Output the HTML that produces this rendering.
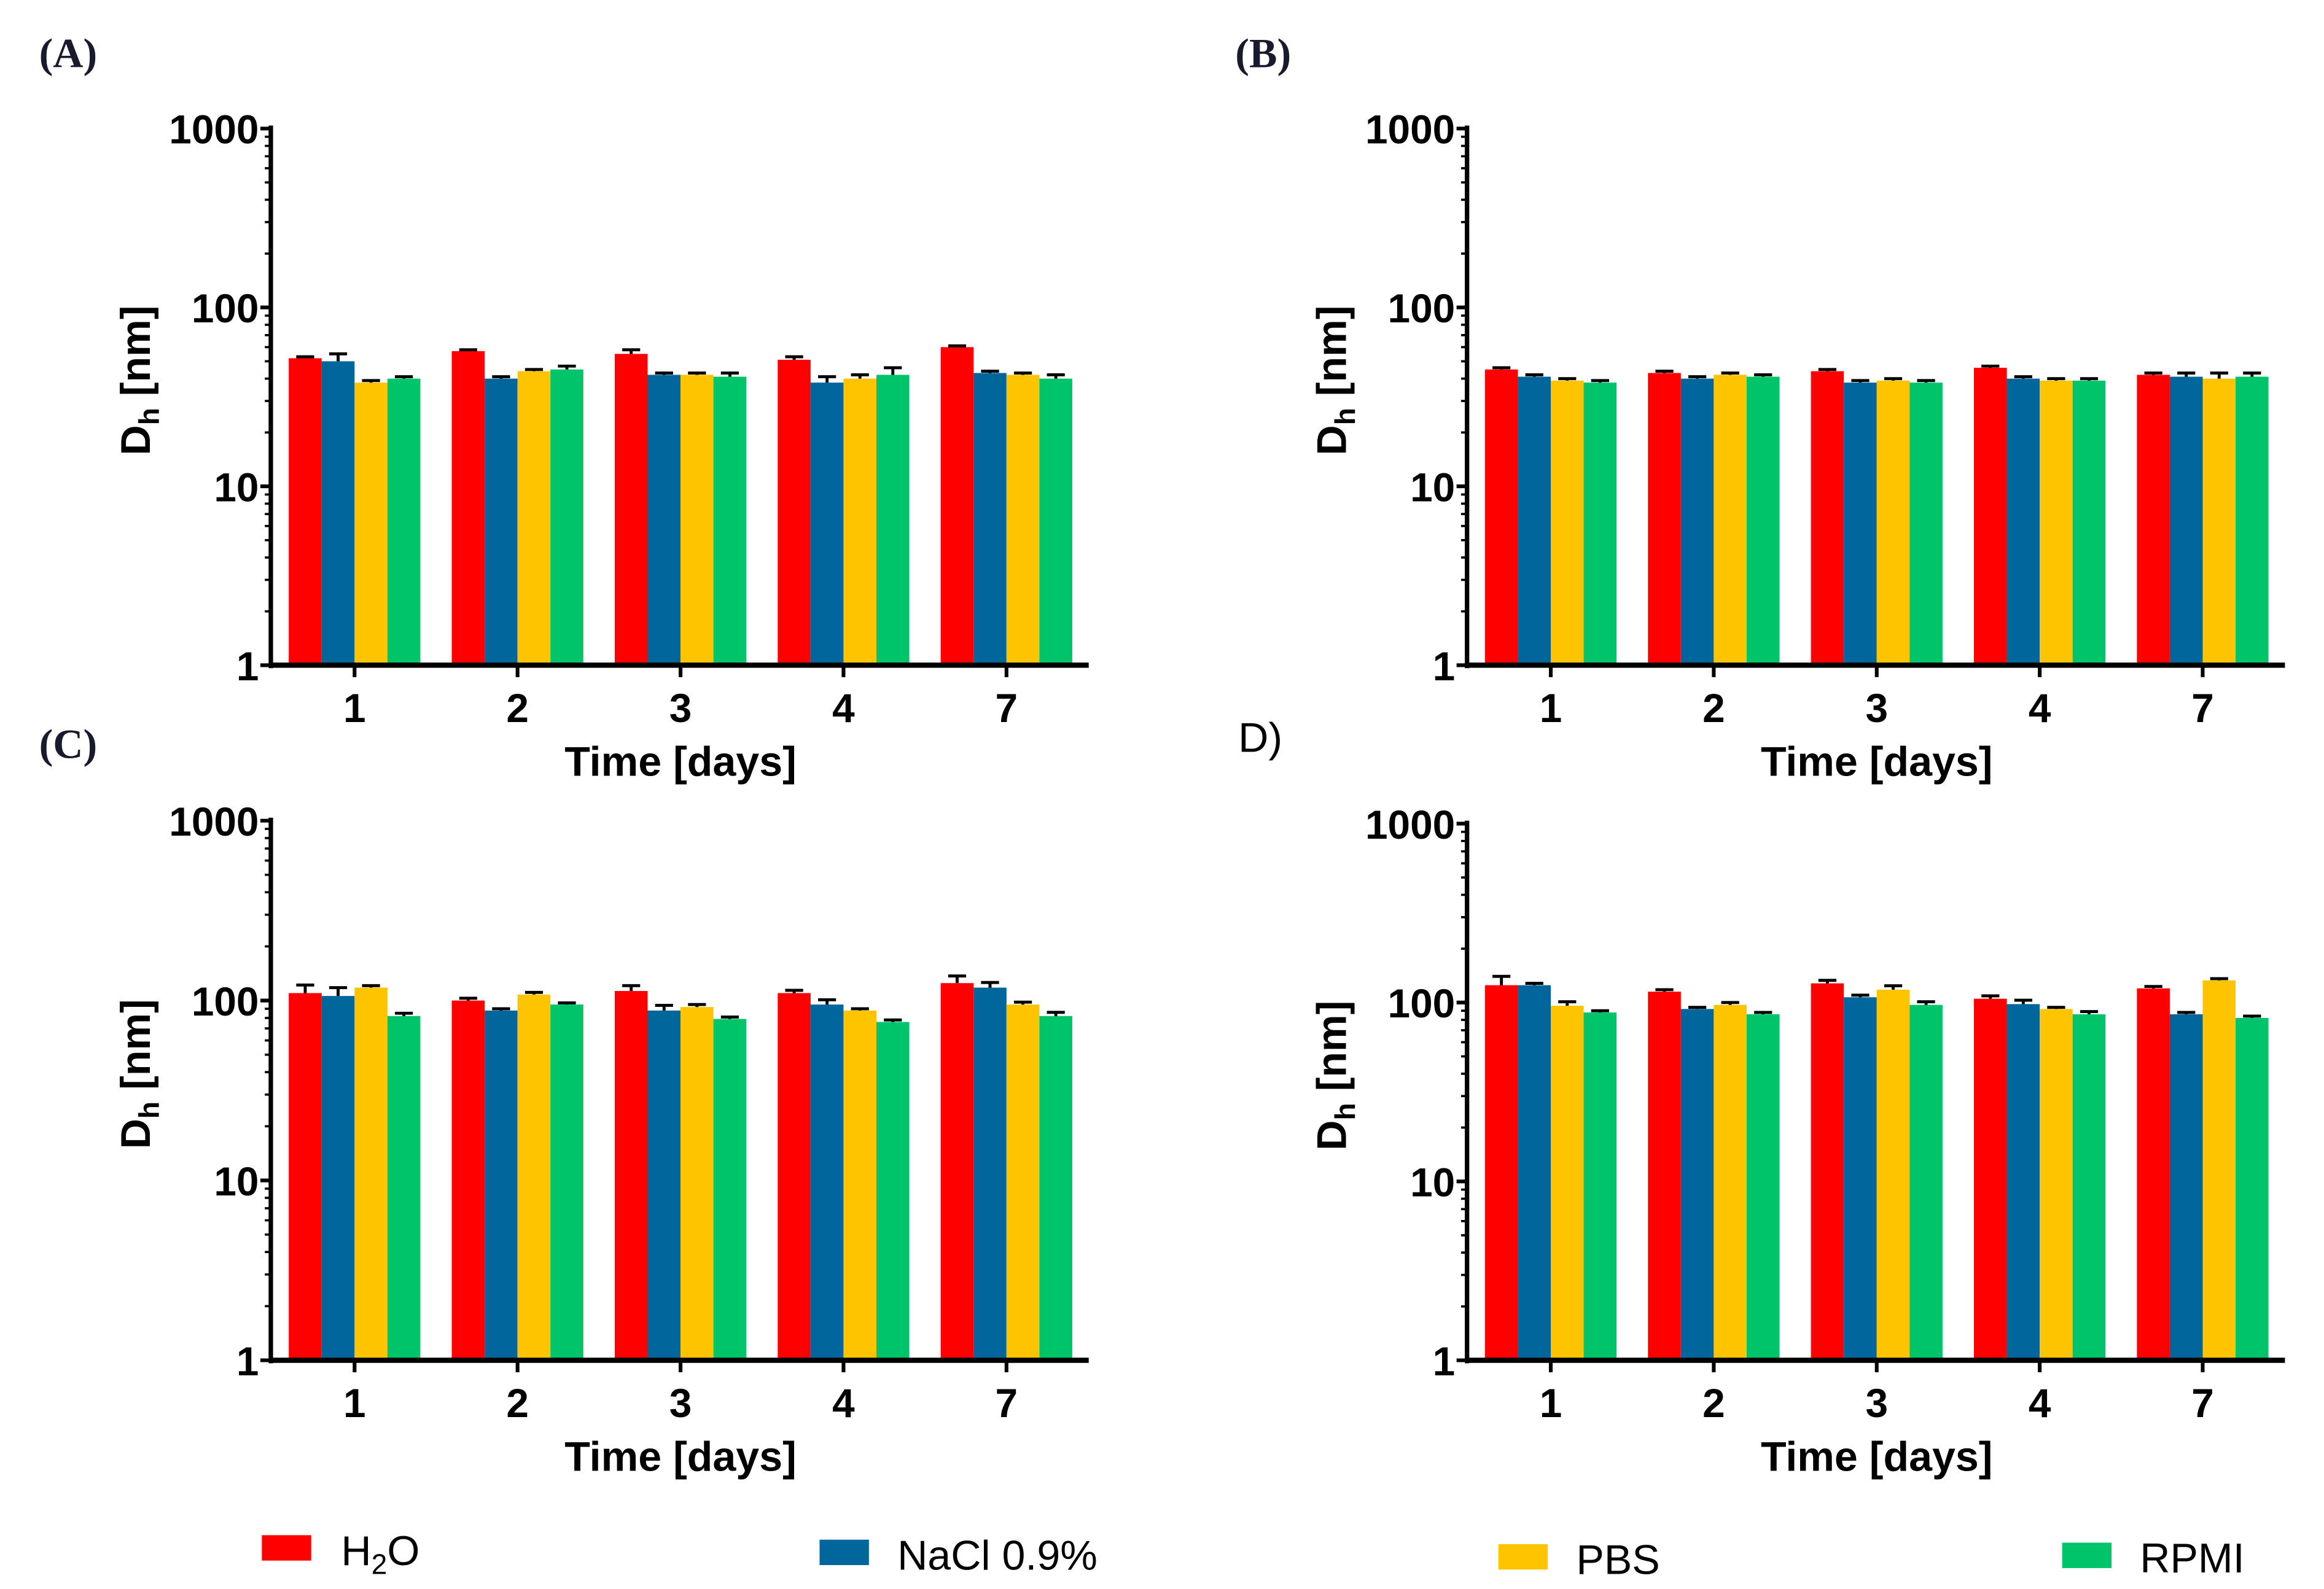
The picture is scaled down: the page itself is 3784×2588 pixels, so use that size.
<!DOCTYPE html>
<html><head><meta charset="utf-8"><style>
html,body{margin:0;padding:0;background:#fff;}
svg{display:block;}
.tick{font-family:"Liberation Sans Narrow","Liberation Sans",sans-serif;font-weight:bold;font-size:27px;fill:#000;}
.title{font-family:"Liberation Sans Narrow","Liberation Sans",sans-serif;font-weight:bold;font-size:28px;fill:#000;}
.plab{font-family:"Liberation Serif",serif;font-size:28px;fill:#1a1a2e;}
.leg{font-family:"Liberation Sans Narrow","Liberation Sans",sans-serif;font-size:28px;fill:#000;}
</style></head><body>
<svg id="fig" width="3784" height="2588" viewBox="0 0 1554 1063" xmlns="http://www.w3.org/2000/svg"></svg>
<script>
const categories = ["1","2","3","4","7"];
const seriesNames = ["H2O","NaCl 0.9%","PBS","RPMI"];
const colors = ["#ff0000","#00669c","#ffc400","#00c46a"];
const yTicks = [1,10,100,1000];
const yTickLabels = ["1","10","100","1000"];
// Panel A
const aH2O = [52,57,55,51,60];
const aNaCl = [50,40,42,38,43];
const aPBS = [38,44,42,40,42];
const aRPMI = [40,45,41,42,40];
const aErrH2O = [1,1,3,2,1];
const aErrNaCl = [5,1,1,3,1];
const aErrPBS = [1,1,1,2,1];
const aErrRPMI = [1,2,2,4,2];
// Panel B
const bH2O = [45,43,44,46,42];
const bNaCl = [41,40,38,40,41];
const bPBS = [39,42,39,39,40];
const bRPMI = [38,41,38,39,41];
const bErrH2O = [1,1,1,1,1];
const bErrNaCl = [1,1,1,1,2];
const bErrPBS = [1,1,1,1,3];
const bErrRPMI = [1,1,1,1,2];
// Panel C
const cH2O = [110,100,113,110,125];
const cNaCl = [106,88,88,95,118];
const cPBS = [118,108,92,88,95];
const cRPMI = [82,95,79,76,82];
const cErrH2O = [12,3,8,4,12];
const cErrNaCl = [12,2,6,6,8];
const cErrPBS = [3,3,3,2,3];
const cErrRPMI = [3,2,2,2,4];
// Panel D
const dH2O = [125,115,128,105,120];
const dNaCl = [125,92,107,98,86];
const dPBS = [96,97,118,92,133];
const dRPMI = [88,86,97,86,82];
const dErrH2O = [15,3,5,4,3];
const dErrNaCl = [3,2,3,5,2];
const dErrPBS = [5,3,6,2,3];
const dErrRPMI = [2,2,4,3,2];

const NS="http://www.w3.org/2000/svg";
const svg=document.getElementById('fig');
function mk(tag,attrs,parent,text){const e=document.createElementNS(NS,tag);for(const k in attrs)e.setAttribute(k,attrs[k]);if(text!==undefined)e.textContent=text;(parent||svg).appendChild(e);return e;}

function panel(id,ox,yTop,yBot,vals,errs){
  const g=mk('g',{});
  
  
  const ax=ox, xEnd=ox+547;
  const yS=v=>yBot-(Math.log10(v))/3*(yBot-yTop);
  const xS=i=>ax+56+i*109;
  const bw=22;
  for(let s=0;s<4;s++){
    for(let i=0;i<categories.length;i++){
      const x=xS(i)-44+s*bw, y=yS(vals[s][i]);
      const r=mk('rect',{x:x,y:y,width:bw,height:yBot-y,fill:colors[s]},g);
      
      
      const ye=yS(vals[s][i]+errs[s][i]);
      const cx=x+bw/2;
      const e=mk('path',{d:`M${cx},${y} L${cx},${ye} M${cx-6},${ye} L${cx+6},${ye}`,stroke:'#000','stroke-width':2,fill:'none'},g);
      
      
    }
  }
  const ya=mk('line',{x1:ax,y1:yTop-2,x2:ax,y2:yBot+2,stroke:'#000','stroke-width':3},g);
  
  
  for(let d=0;d<3;d++){for(let m=2;m<=9;m++){const y=yS(Math.pow(10,d)*m);mk('line',{x1:ax-4,y1:y,x2:ax,y2:y,stroke:'#000','stroke-width':1.5},g);}}
  yTicks.forEach((v,k)=>{const y=yS(v);mk('line',{x1:ax-7,y1:y,x2:ax,y2:y,stroke:'#000','stroke-width':2.5},g);
    const t=mk('text',{x:ax-8,y:y+10,'text-anchor':'end',class:'tick'},g,yTickLabels[k]);
    
    });
  const xa=mk('line',{x1:ax-1,y1:yBot,x2:xEnd,y2:yBot,stroke:'#000','stroke-width':3.5},g);
  
  
  categories.forEach((c,i)=>{const x=xS(i);mk('line',{x1:x,y1:yBot,x2:x,y2:yBot+8,stroke:'#000','stroke-width':2.5},g);
    const t=mk('text',{x:x,y:yBot+38,'text-anchor':'middle',class:'tick'},g,c);
    
    });
  const xt=mk('text',{x:ax+274,y:yBot+74,'text-anchor':'middle',class:'title'},g,'Time [days]');
  
  
  const cy=(yTop+yBot)/2-11;
  const yt=mk('text',{x:0,y:0,transform:`translate(${ax-81},${cy}) rotate(-90)`,'text-anchor':'middle',class:'title','font-size':'30'},g);
  
  
  mk('tspan',{},yt,'D');
  mk('tspan',{'font-size':'19',dy:'6'},yt,'h');
  mk('tspan',{dy:'-6'},yt,' [nm]');
}
panel('a',181,86,445,[aH2O,aNaCl,aPBS,aRPMI],[aErrH2O,aErrNaCl,aErrPBS,aErrRPMI]);
panel('b',981,86,445,[bH2O,bNaCl,bPBS,bRPMI],[bErrH2O,bErrNaCl,bErrPBS,bErrRPMI]);
panel('c',181,549,910,[cH2O,cNaCl,cPBS,cRPMI],[cErrH2O,cErrNaCl,cErrPBS,cErrRPMI]);
panel('d',981,551,910,[dH2O,dNaCl,dPBS,dRPMI],[dErrH2O,dErrNaCl,dErrPBS,dErrRPMI]);

[['(A)',26,45],['(B)',826,45],['(C)',26,507]].forEach(p=>{const t=mk('text',{x:p[1],y:p[2],class:'plab','font-weight':'bold'},svg,p[0]);
  
  });
const dl=mk('text',{x:828,y:503,class:'leg','font-size':'24'},svg,'D)');



const legX=[175,548,1002,1379];
const legY=[1027,1030,1033,1032];
const legTx=[228,600,1054,1431];
seriesNames.forEach((n,s)=>{
  const r=mk('rect',{x:legX[s],y:legY[s],width:33,height:17,fill:colors[s]});
  
  
  const t=mk('text',{x:legTx[s],y:legY[s]+20,class:'leg'});
  
  
  if(s===0){mk('tspan',{},t,'H');mk('tspan',{'font-size':'19',dy:'6'},t,'2');mk('tspan',{dy:'-6'},t,'O');}
  else t.textContent=n;
});
</script>
</body></html>
